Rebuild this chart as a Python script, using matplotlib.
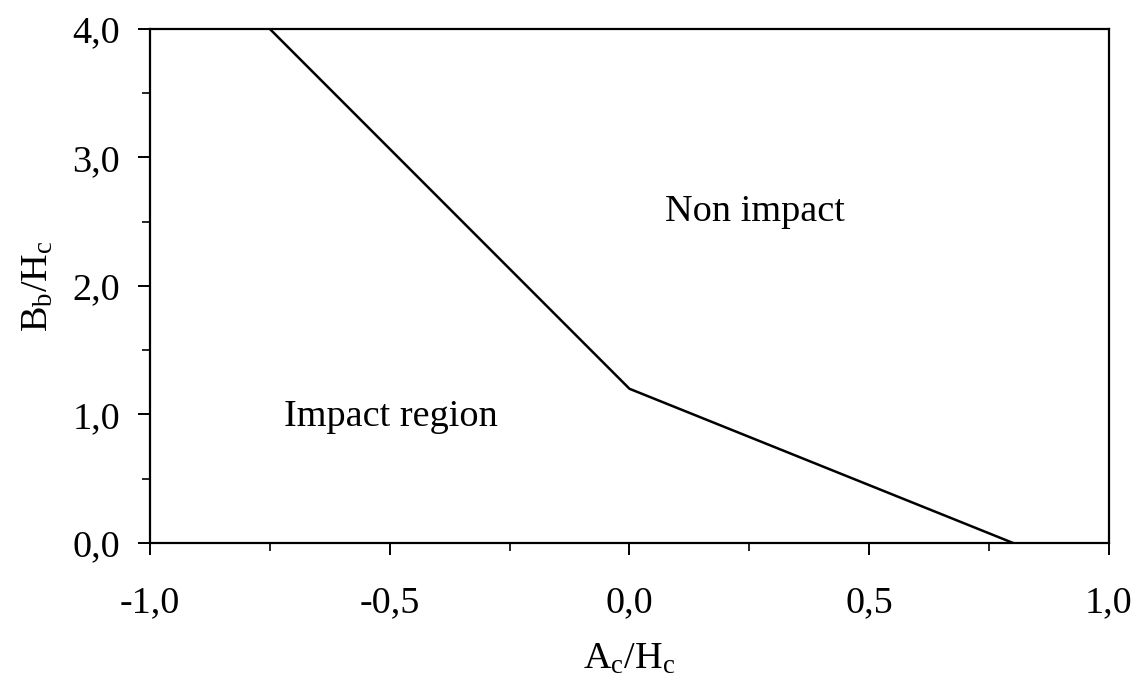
import matplotlib
matplotlib.use("Agg")
import matplotlib.pyplot as plt
from matplotlib.ticker import FixedLocator, FixedFormatter

# boundary between impact / non-impact regions
ac_hc = [-0.75, 0.0, 0.8]
bb_hc = [4.0, 1.2, 0.0]

x_ticks = [-1.0, -0.5, 0.0, 0.5, 1.0]
x_tick_labels = ["-1,0", "-0,5", "0,0", "0,5", "1,0"]
x_minor = [-0.75, -0.25, 0.25, 0.75]
y_ticks = [0.0, 1.0, 2.0, 3.0, 4.0]
y_tick_labels = ["0,0", "1,0", "2,0", "3,0", "4,0"]
y_minor = [0.5, 1.5, 2.5, 3.5]

region_labels = ["Impact region", "Non impact"]
region_pos = [(-0.72, 0.98), (0.075, 2.58)]

plt.rcParams["font.family"] = ["Liberation Serif", "DejaVu Serif"]
plt.rcParams["mathtext.fontset"] = "custom"
plt.rcParams["mathtext.rm"] = "Liberation Serif"
plt.rcParams["mathtext.it"] = "Liberation Serif:italic"

fs = 27.5

fig = plt.figure(figsize=(11.38, 6.8), dpi=100)
ax = fig.add_axes([0.1318, 0.2015, 0.8427, 0.7559])

ax.plot(ac_hc, bb_hc, color="black", linewidth=1.8)

for label, (x, y) in zip(region_labels, region_pos):
    ax.text(x, y, label, fontsize=fs, va="center", ha="left")

ax.set_xlim(-1.0, 1.0)
ax.set_ylim(0.0, 4.0)
ax.xaxis.set_major_locator(FixedLocator(x_ticks))
ax.xaxis.set_major_formatter(FixedFormatter(x_tick_labels))
ax.xaxis.set_minor_locator(FixedLocator(x_minor))
ax.yaxis.set_major_locator(FixedLocator(y_ticks))
ax.yaxis.set_major_formatter(FixedFormatter(y_tick_labels))
ax.yaxis.set_minor_locator(FixedLocator(y_minor))

ax.tick_params(which="major", direction="out", length=8.5, width=1.4, labelsize=fs)
ax.tick_params(axis="x", which="major", pad=22)
ax.tick_params(axis="y", which="major", pad=13)
ax.tick_params(which="minor", direction="out", length=5.5, width=1.2)

for spine in ax.spines.values():
    spine.set_linewidth(1.6)

ax.set_xlabel(r"A$_\mathrm{c}$/H$_\mathrm{c}$", fontsize=fs, labelpad=16)
ax.set_ylabel(r"B$_\mathrm{b}$/H$_\mathrm{c}$", fontsize=fs, labelpad=12)

fig.savefig("out.png", dpi=100)
plt.close(fig)
